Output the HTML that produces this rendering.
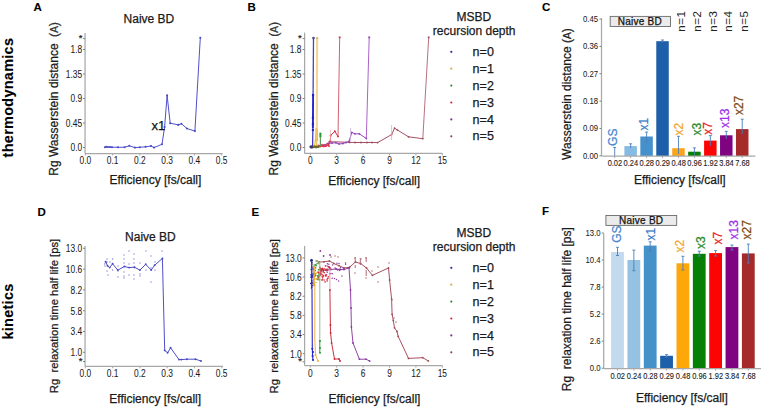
<!DOCTYPE html>
<html><head><meta charset="utf-8"><style>
html,body{margin:0;padding:0;background:#fff;overflow:hidden;}
svg{display:block;}
text{font-family:"Liberation Sans", sans-serif;white-space:pre;}
</style></head><body>
<svg width="764" height="408" viewBox="0 0 764 408">
<rect width="764" height="408" fill="#fff"/>
<text transform="translate(12.90,97.60) rotate(-90)" font-size="14.4" text-anchor="middle" fill="#000" stroke="#000" stroke-width="0.1" font-weight="bold" letter-spacing="0.32">thermodynamics</text>
<text transform="translate(12.90,311.50) rotate(-90)" font-size="14.4" text-anchor="middle" fill="#000" stroke="#000" stroke-width="0.1" font-weight="bold" letter-spacing="0.32">kinetics</text>
<text x="33.60" y="11.20" font-size="11.5" text-anchor="start" fill="#000" stroke="#000" stroke-width="0.1" font-weight="bold" >A</text>
<text x="247.60" y="11.30" font-size="11.5" text-anchor="start" fill="#000" stroke="#000" stroke-width="0.1" font-weight="bold" >B</text>
<text x="542.00" y="11.30" font-size="11.5" text-anchor="start" fill="#000" stroke="#000" stroke-width="0.1" font-weight="bold" >C</text>
<text x="37.60" y="216.40" font-size="11.5" text-anchor="start" fill="#000" stroke="#000" stroke-width="0.1" font-weight="bold" >D</text>
<text x="251.60" y="216.20" font-size="11.5" text-anchor="start" fill="#000" stroke="#000" stroke-width="0.1" font-weight="bold" >E</text>
<text x="542.00" y="215.40" font-size="11.5" text-anchor="start" fill="#000" stroke="#000" stroke-width="0.1" font-weight="bold" >F</text>
<text x="148.90" y="23.10" font-size="12" text-anchor="middle" fill="#1a1a1a" stroke="#1a1a1a" stroke-width="0.25" font-weight="normal" >Naive BD</text>
<text transform="translate(57.60,175.70) rotate(-90)" font-size="12" text-anchor="start" fill="#1a1a1a" stroke="#1a1a1a" stroke-width="0.25" font-weight="normal" >Rg Wasserstein distance</text>
<text transform="translate(57.90,37.00) rotate(-90)" font-size="12.5" text-anchor="start" fill="#333" stroke="#333" stroke-width="0.25" font-weight="normal" >(<tspan font-size="10">A</tspan>)</text>
<line x1="85.05" y1="33.00" x2="85.05" y2="153.50" stroke="#a8a8a8" stroke-width="1.25" />
<line x1="83.05" y1="38.62" x2="85.05" y2="38.62" stroke="#808080" stroke-width="1" />
<text x="82.40" y="41.12" font-size="9.5" text-anchor="end" fill="#1a1a1a" stroke="#1a1a1a" stroke-width="0.2" font-weight="normal" >*</text>
<line x1="83.05" y1="49.51" x2="85.05" y2="49.51" stroke="#808080" stroke-width="1" />
<text transform="translate(82.20,53.31) scale(0.8,1)" font-size="10.5" text-anchor="end" fill="#1a1a1a" stroke="#1a1a1a" stroke-width="0.05">1.8</text>
<line x1="83.05" y1="74.01" x2="85.05" y2="74.01" stroke="#808080" stroke-width="1" />
<text transform="translate(82.20,77.81) scale(0.8,1)" font-size="10.5" text-anchor="end" fill="#1a1a1a" stroke="#1a1a1a" stroke-width="0.05">1.35</text>
<line x1="83.05" y1="98.50" x2="85.05" y2="98.50" stroke="#808080" stroke-width="1" />
<text transform="translate(82.20,102.30) scale(0.8,1)" font-size="10.5" text-anchor="end" fill="#1a1a1a" stroke="#1a1a1a" stroke-width="0.05">0.9</text>
<line x1="83.05" y1="123.00" x2="85.05" y2="123.00" stroke="#808080" stroke-width="1" />
<text transform="translate(82.20,126.80) scale(0.8,1)" font-size="10.5" text-anchor="end" fill="#1a1a1a" stroke="#1a1a1a" stroke-width="0.05">0.45</text>
<line x1="83.05" y1="147.50" x2="85.05" y2="147.50" stroke="#808080" stroke-width="1" />
<text transform="translate(82.20,151.30) scale(0.8,1)" font-size="10.5" text-anchor="end" fill="#1a1a1a" stroke="#1a1a1a" stroke-width="0.05">0.0</text>
<line x1="85.05" y1="153.50" x2="222.50" y2="153.50" stroke="#a8a8a8" stroke-width="1.25" />
<line x1="85.40" y1="153.50" x2="85.40" y2="155.50" stroke="#a8a8a8" stroke-width="1" />
<text transform="translate(85.40,164.10) scale(0.8,1)" font-size="10.5" text-anchor="middle" fill="#1a1a1a" stroke="#1a1a1a" stroke-width="0.05">0.0</text>
<line x1="112.66" y1="153.50" x2="112.66" y2="155.50" stroke="#a8a8a8" stroke-width="1" />
<text transform="translate(112.66,164.10) scale(0.8,1)" font-size="10.5" text-anchor="middle" fill="#1a1a1a" stroke="#1a1a1a" stroke-width="0.05">0.1</text>
<line x1="139.92" y1="153.50" x2="139.92" y2="155.50" stroke="#a8a8a8" stroke-width="1" />
<text transform="translate(139.92,164.10) scale(0.8,1)" font-size="10.5" text-anchor="middle" fill="#1a1a1a" stroke="#1a1a1a" stroke-width="0.05">0.2</text>
<line x1="167.18" y1="153.50" x2="167.18" y2="155.50" stroke="#a8a8a8" stroke-width="1" />
<text transform="translate(167.18,164.10) scale(0.8,1)" font-size="10.5" text-anchor="middle" fill="#1a1a1a" stroke="#1a1a1a" stroke-width="0.05">0.3</text>
<line x1="194.44" y1="153.50" x2="194.44" y2="155.50" stroke="#a8a8a8" stroke-width="1" />
<text transform="translate(194.44,164.10) scale(0.8,1)" font-size="10.5" text-anchor="middle" fill="#1a1a1a" stroke="#1a1a1a" stroke-width="0.05">0.4</text>
<line x1="221.70" y1="153.50" x2="221.70" y2="155.50" stroke="#a8a8a8" stroke-width="1" />
<text transform="translate(221.70,164.10) scale(0.8,1)" font-size="10.5" text-anchor="middle" fill="#1a1a1a" stroke="#1a1a1a" stroke-width="0.05">0.5</text>
<text x="109.50" y="184.40" font-size="12" text-anchor="start" fill="#1a1a1a" stroke="#1a1a1a" stroke-width="0.25" font-weight="normal" >Efficiency [fs/call]</text>
<polyline points="104.90,147.30 106.30,146.80 107.80,147.00 110.00,147.00 112.00,147.20 118.00,147.30 124.60,147.20 129.30,145.80 134.90,147.60 139.80,147.30 145.60,146.80 151.00,146.00 154.00,147.60 162.00,144.30 164.60,127.10 167.10,95.40 170.20,123.20 178.30,124.90 181.40,123.70 186.90,128.50 194.90,131.10 200.30,37.70" fill="none" stroke="#5050cc" stroke-width="1.0" stroke-linejoin="round" />
<circle cx="104.90" cy="147.30" r="1.05" fill="#4a4ac8" fill-opacity="1"/>
<circle cx="106.30" cy="146.80" r="1.05" fill="#4a4ac8" fill-opacity="1"/>
<circle cx="107.80" cy="147.00" r="1.05" fill="#4a4ac8" fill-opacity="1"/>
<circle cx="110.00" cy="147.00" r="1.05" fill="#4a4ac8" fill-opacity="1"/>
<circle cx="112.00" cy="147.20" r="1.05" fill="#4a4ac8" fill-opacity="1"/>
<circle cx="118.00" cy="147.30" r="1.05" fill="#4a4ac8" fill-opacity="1"/>
<circle cx="124.60" cy="147.20" r="1.05" fill="#4a4ac8" fill-opacity="1"/>
<circle cx="129.30" cy="145.80" r="1.05" fill="#4a4ac8" fill-opacity="1"/>
<circle cx="134.90" cy="147.60" r="1.05" fill="#4a4ac8" fill-opacity="1"/>
<circle cx="139.80" cy="147.30" r="1.05" fill="#4a4ac8" fill-opacity="1"/>
<circle cx="145.60" cy="146.80" r="1.05" fill="#4a4ac8" fill-opacity="1"/>
<circle cx="151.00" cy="146.00" r="1.05" fill="#4a4ac8" fill-opacity="1"/>
<circle cx="154.00" cy="147.60" r="1.05" fill="#4a4ac8" fill-opacity="1"/>
<circle cx="162.00" cy="144.30" r="1.05" fill="#4a4ac8" fill-opacity="1"/>
<circle cx="164.60" cy="127.10" r="1.05" fill="#4a4ac8" fill-opacity="1"/>
<circle cx="167.10" cy="95.40" r="1.05" fill="#4a4ac8" fill-opacity="1"/>
<circle cx="170.20" cy="123.20" r="1.05" fill="#4a4ac8" fill-opacity="1"/>
<circle cx="178.30" cy="124.90" r="1.05" fill="#4a4ac8" fill-opacity="1"/>
<circle cx="181.40" cy="123.70" r="1.05" fill="#4a4ac8" fill-opacity="1"/>
<circle cx="186.90" cy="128.50" r="1.05" fill="#4a4ac8" fill-opacity="1"/>
<circle cx="194.90" cy="131.10" r="1.05" fill="#4a4ac8" fill-opacity="1"/>
<circle cx="200.30" cy="37.70" r="1.05" fill="#4a4ac8" fill-opacity="1"/>
<text x="151.60" y="130.20" font-size="13" text-anchor="start" fill="#111" stroke="#111" stroke-width="0.25" font-weight="normal" >x1</text>
<text transform="translate(277.60,175.50) rotate(-90)" font-size="12" text-anchor="start" fill="#1a1a1a" stroke="#1a1a1a" stroke-width="0.25" font-weight="normal" >Rg Wasserstein distance</text>
<text transform="translate(277.90,36.80) rotate(-90)" font-size="12.5" text-anchor="start" fill="#333" stroke="#333" stroke-width="0.25" font-weight="normal" >(<tspan font-size="10">A</tspan>)</text>
<line x1="304.60" y1="32.60" x2="304.60" y2="153.40" stroke="#a8a8a8" stroke-width="1.25" />
<line x1="302.60" y1="38.62" x2="304.60" y2="38.62" stroke="#808080" stroke-width="1" />
<text x="301.60" y="41.12" font-size="9.5" text-anchor="end" fill="#1a1a1a" stroke="#1a1a1a" stroke-width="0.2" font-weight="normal" >*</text>
<line x1="302.60" y1="49.51" x2="304.60" y2="49.51" stroke="#808080" stroke-width="1" />
<text transform="translate(301.40,53.31) scale(0.8,1)" font-size="10.5" text-anchor="end" fill="#1a1a1a" stroke="#1a1a1a" stroke-width="0.05">1.8</text>
<line x1="302.60" y1="74.01" x2="304.60" y2="74.01" stroke="#808080" stroke-width="1" />
<text transform="translate(301.40,77.81) scale(0.8,1)" font-size="10.5" text-anchor="end" fill="#1a1a1a" stroke="#1a1a1a" stroke-width="0.05">1.35</text>
<line x1="302.60" y1="98.50" x2="304.60" y2="98.50" stroke="#808080" stroke-width="1" />
<text transform="translate(301.40,102.30) scale(0.8,1)" font-size="10.5" text-anchor="end" fill="#1a1a1a" stroke="#1a1a1a" stroke-width="0.05">0.9</text>
<line x1="302.60" y1="123.00" x2="304.60" y2="123.00" stroke="#808080" stroke-width="1" />
<text transform="translate(301.40,126.80) scale(0.8,1)" font-size="10.5" text-anchor="end" fill="#1a1a1a" stroke="#1a1a1a" stroke-width="0.05">0.45</text>
<line x1="302.60" y1="147.50" x2="304.60" y2="147.50" stroke="#808080" stroke-width="1" />
<text transform="translate(301.40,151.30) scale(0.8,1)" font-size="10.5" text-anchor="end" fill="#1a1a1a" stroke="#1a1a1a" stroke-width="0.05">0.0</text>
<line x1="304.60" y1="153.40" x2="442.50" y2="153.40" stroke="#a8a8a8" stroke-width="1.25" />
<line x1="310.30" y1="153.40" x2="310.30" y2="155.40" stroke="#a8a8a8" stroke-width="1" />
<text transform="translate(310.30,164.10) scale(0.8,1)" font-size="10.5" text-anchor="middle" fill="#1a1a1a" stroke="#1a1a1a" stroke-width="0.05">0</text>
<line x1="336.70" y1="153.40" x2="336.70" y2="155.40" stroke="#a8a8a8" stroke-width="1" />
<text transform="translate(336.70,164.10) scale(0.8,1)" font-size="10.5" text-anchor="middle" fill="#1a1a1a" stroke="#1a1a1a" stroke-width="0.05">3</text>
<line x1="363.10" y1="153.40" x2="363.10" y2="155.40" stroke="#a8a8a8" stroke-width="1" />
<text transform="translate(363.10,164.10) scale(0.8,1)" font-size="10.5" text-anchor="middle" fill="#1a1a1a" stroke="#1a1a1a" stroke-width="0.05">6</text>
<line x1="389.50" y1="153.40" x2="389.50" y2="155.40" stroke="#a8a8a8" stroke-width="1" />
<text transform="translate(389.50,164.10) scale(0.8,1)" font-size="10.5" text-anchor="middle" fill="#1a1a1a" stroke="#1a1a1a" stroke-width="0.05">9</text>
<line x1="415.90" y1="153.40" x2="415.90" y2="155.40" stroke="#a8a8a8" stroke-width="1" />
<text transform="translate(415.90,164.10) scale(0.8,1)" font-size="10.5" text-anchor="middle" fill="#1a1a1a" stroke="#1a1a1a" stroke-width="0.05">12</text>
<line x1="442.30" y1="153.40" x2="442.30" y2="155.40" stroke="#a8a8a8" stroke-width="1" />
<text transform="translate(442.30,164.10) scale(0.8,1)" font-size="10.5" text-anchor="middle" fill="#1a1a1a" stroke="#1a1a1a" stroke-width="0.05">15</text>
<text x="328.30" y="184.60" font-size="12" text-anchor="start" fill="#1a1a1a" stroke="#1a1a1a" stroke-width="0.25" font-weight="normal" >Efficiency [fs/call]</text>
<polyline points="328.00,142.00 335.00,141.80 349.70,142.40 355.00,142.50 361.00,142.50 367.00,142.50 372.00,142.50 377.60,142.60 391.60,134.60 394.60,128.20 397.50,130.10 408.50,136.80 422.80,138.70" fill="none" stroke="#a0485a" stroke-width="0.95" stroke-linejoin="round" />
<circle cx="349.70" cy="142.40" r="0.9" fill="#a0485a" fill-opacity="1"/>
<circle cx="355.00" cy="142.50" r="0.9" fill="#a0485a" fill-opacity="1"/>
<circle cx="361.00" cy="142.50" r="0.9" fill="#a0485a" fill-opacity="1"/>
<circle cx="367.00" cy="142.50" r="0.9" fill="#a0485a" fill-opacity="1"/>
<circle cx="372.00" cy="142.50" r="0.9" fill="#a0485a" fill-opacity="1"/>
<circle cx="377.60" cy="142.60" r="0.9" fill="#a0485a" fill-opacity="1"/>
<circle cx="391.60" cy="134.60" r="0.9" fill="#a0485a" fill-opacity="1"/>
<circle cx="394.60" cy="128.20" r="0.9" fill="#a0485a" fill-opacity="1"/>
<circle cx="397.50" cy="130.10" r="0.9" fill="#a0485a" fill-opacity="1"/>
<circle cx="408.50" cy="136.80" r="0.9" fill="#a0485a" fill-opacity="1"/>
<circle cx="422.80" cy="138.70" r="0.9" fill="#a0485a" fill-opacity="1"/>
<polyline points="422.80,138.70 428.70,37.40" fill="none" stroke="#b06070" stroke-width="0.9" stroke-linejoin="round" />
<circle cx="428.70" cy="37.40" r="1.1" fill="#b06070" fill-opacity="1"/>
<line x1="391.60" y1="125.00" x2="391.60" y2="140.00" stroke="#d8b0b0" stroke-width="0.8" />
<polyline points="320.00,146.00 324.00,145.00 328.00,143.50 332.00,143.00 336.00,142.80 339.00,144.00 343.00,143.50 346.00,142.50 349.00,141.50 351.80,132.50 354.90,133.80 359.30,133.80 366.30,138.50" fill="none" stroke="#9040b8" stroke-width="0.95" stroke-linejoin="round" />
<circle cx="320.00" cy="146.00" r="0.9" fill="#9040b8" fill-opacity="1"/>
<circle cx="324.00" cy="145.00" r="0.9" fill="#9040b8" fill-opacity="1"/>
<circle cx="328.00" cy="143.50" r="0.9" fill="#9040b8" fill-opacity="1"/>
<circle cx="332.00" cy="143.00" r="0.9" fill="#9040b8" fill-opacity="1"/>
<circle cx="336.00" cy="142.80" r="0.9" fill="#9040b8" fill-opacity="1"/>
<circle cx="339.00" cy="144.00" r="0.9" fill="#9040b8" fill-opacity="1"/>
<circle cx="343.00" cy="143.50" r="0.9" fill="#9040b8" fill-opacity="1"/>
<circle cx="346.00" cy="142.50" r="0.9" fill="#9040b8" fill-opacity="1"/>
<circle cx="349.00" cy="141.50" r="0.9" fill="#9040b8" fill-opacity="1"/>
<circle cx="351.80" cy="132.50" r="0.9" fill="#9040b8" fill-opacity="1"/>
<circle cx="354.90" cy="133.80" r="0.9" fill="#9040b8" fill-opacity="1"/>
<circle cx="359.30" cy="133.80" r="0.9" fill="#9040b8" fill-opacity="1"/>
<circle cx="366.30" cy="138.50" r="0.9" fill="#9040b8" fill-opacity="1"/>
<polyline points="366.30,138.50 369.20,37.40" fill="none" stroke="#a050c0" stroke-width="0.9" stroke-linejoin="round" />
<circle cx="369.20" cy="37.40" r="1.1" fill="#a050c0" fill-opacity="1"/>
<line x1="350.60" y1="128.00" x2="350.60" y2="141.00" stroke="#c8b0e0" stroke-width="0.8" />
<polyline points="317.00,147.00 320.00,146.50 323.00,146.00 326.00,146.00 328.50,145.00 330.30,141.00 330.60,135.50 334.80,131.20 338.00,136.50" fill="none" stroke="#e0283c" stroke-width="1.0" stroke-linejoin="round" />
<circle cx="317.00" cy="147.00" r="1.0" fill="#e0283c" fill-opacity="1"/>
<circle cx="320.00" cy="146.50" r="1.0" fill="#e0283c" fill-opacity="1"/>
<circle cx="323.00" cy="146.00" r="1.0" fill="#e0283c" fill-opacity="1"/>
<circle cx="326.00" cy="146.00" r="1.0" fill="#e0283c" fill-opacity="1"/>
<circle cx="328.50" cy="145.00" r="1.0" fill="#e0283c" fill-opacity="1"/>
<circle cx="330.30" cy="141.00" r="1.0" fill="#e0283c" fill-opacity="1"/>
<circle cx="330.60" cy="135.50" r="1.0" fill="#e0283c" fill-opacity="1"/>
<circle cx="334.80" cy="131.20" r="1.0" fill="#e0283c" fill-opacity="1"/>
<circle cx="338.00" cy="136.50" r="1.0" fill="#e0283c" fill-opacity="1"/>
<circle cx="318.50" cy="145.50" r="0.9" fill="#e03848" fill-opacity="1"/>
<circle cx="320.50" cy="146.20" r="0.9" fill="#e03848" fill-opacity="1"/>
<circle cx="322.00" cy="144.60" r="0.9" fill="#e03848" fill-opacity="1"/>
<circle cx="324.00" cy="146.50" r="0.9" fill="#e03848" fill-opacity="1"/>
<circle cx="326.00" cy="145.00" r="0.9" fill="#e03848" fill-opacity="1"/>
<circle cx="327.20" cy="143.80" r="0.9" fill="#e03848" fill-opacity="1"/>
<circle cx="329.00" cy="146.20" r="0.9" fill="#e03848" fill-opacity="1"/>
<polyline points="338.00,136.50 339.70,37.40" fill="none" stroke="#c85060" stroke-width="0.9" stroke-linejoin="round" />
<circle cx="339.70" cy="37.40" r="1.1" fill="#c85060" fill-opacity="1"/>
<line x1="330.40" y1="130.00" x2="330.40" y2="141.00" stroke="#f0b0b8" stroke-width="0.8" />
<polyline points="315.00,147.20 318.00,146.80 320.40,146.00 320.40,137.00" fill="none" stroke="#2a9a3a" stroke-width="1.0" stroke-linejoin="round" />
<circle cx="320.40" cy="133.60" r="1.15" fill="#2a9a3a" fill-opacity="1"/>
<circle cx="320.40" cy="135.00" r="1.15" fill="#2a9a3a" fill-opacity="1"/>
<circle cx="320.40" cy="136.40" r="1.15" fill="#2a9a3a" fill-opacity="1"/>
<line x1="320.40" y1="137.00" x2="320.40" y2="146.00" stroke="#60a060" stroke-width="1.0" />
<line x1="316.80" y1="140.00" x2="317.10" y2="38.10" stroke="#f3d69a" stroke-width="2.2" />
<circle cx="317.10" cy="38.10" r="1.2" fill="#d8b870" fill-opacity="1"/>
<polyline points="313.50,147.00 314.50,146.00 315.50,140.00 316.20,129.00 316.80,138.00 317.20,131.00 317.40,140.00" fill="none" stroke="#f0b030" stroke-width="1.1" stroke-linejoin="round" />
<circle cx="313.50" cy="147.00" r="0.9" fill="#f0b030" fill-opacity="1"/>
<circle cx="314.50" cy="146.00" r="0.9" fill="#f0b030" fill-opacity="1"/>
<circle cx="315.50" cy="140.00" r="0.9" fill="#f0b030" fill-opacity="1"/>
<circle cx="316.20" cy="129.00" r="0.9" fill="#f0b030" fill-opacity="1"/>
<circle cx="316.80" cy="138.00" r="0.9" fill="#f0b030" fill-opacity="1"/>
<circle cx="317.20" cy="131.00" r="0.9" fill="#f0b030" fill-opacity="1"/>
<circle cx="317.40" cy="140.00" r="0.9" fill="#f0b030" fill-opacity="1"/>
<line x1="316.60" y1="128.00" x2="316.60" y2="146.00" stroke="#f2c560" stroke-width="1.6" />
<line x1="313.10" y1="94.00" x2="313.50" y2="38.10" stroke="#4646c0" stroke-width="1.3" />
<line x1="312.90" y1="128.00" x2="313.10" y2="94.00" stroke="#2626d0" stroke-width="1.9" />
<line x1="312.60" y1="146.00" x2="312.90" y2="128.00" stroke="#3030c8" stroke-width="1.2" />
<circle cx="313.50" cy="38.10" r="1.3" fill="#4a4aa0" fill-opacity="1"/>
<circle cx="313.00" cy="95.00" r="1.2" fill="#2020c8" fill-opacity="1"/>
<circle cx="312.90" cy="118.00" r="1.2" fill="#2020c8" fill-opacity="1"/>
<circle cx="312.90" cy="124.00" r="1.2" fill="#2020c8" fill-opacity="1"/>
<circle cx="312.90" cy="130.00" r="1.2" fill="#2020c8" fill-opacity="1"/>
<circle cx="311.00" cy="146.80" r="1.6" fill="#3a3a6a" fill-opacity="1"/>
<circle cx="312.00" cy="147.00" r="1.6" fill="#3a3a6a" fill-opacity="1"/>
<circle cx="314.00" cy="146.80" r="1.4" fill="#6a6a30" fill-opacity="1"/>
<circle cx="316.00" cy="147.00" r="1.4" fill="#6a6a30" fill-opacity="1"/>
<circle cx="318.00" cy="146.80" r="1.4" fill="#6a6a30" fill-opacity="1"/>
<text x="473.80" y="21.00" font-size="12" text-anchor="middle" fill="#1a1a1a" stroke="#1a1a1a" stroke-width="0.25" font-weight="normal" >MSBD</text>
<text x="474.20" y="35.00" font-size="12" text-anchor="middle" fill="#1a1a1a" stroke="#1a1a1a" stroke-width="0.25" font-weight="normal" >recursion depth</text>
<circle cx="451.30" cy="51.80" r="1.1" fill="#2a2ab0" fill-opacity="1"/>
<text x="472.40" y="55.90" font-size="12.5" text-anchor="start" fill="#1a1a1a" stroke="#1a1a1a" stroke-width="0.25" font-weight="normal" letter-spacing="0.2">n=0</text>
<circle cx="451.30" cy="68.70" r="1.1" fill="#e0b040" fill-opacity="1"/>
<text x="472.40" y="72.80" font-size="12.5" text-anchor="start" fill="#1a1a1a" stroke="#1a1a1a" stroke-width="0.25" font-weight="normal" letter-spacing="0.2">n=1</text>
<circle cx="451.30" cy="85.60" r="1.1" fill="#2a8a3a" fill-opacity="1"/>
<text x="472.40" y="89.70" font-size="12.5" text-anchor="start" fill="#1a1a1a" stroke="#1a1a1a" stroke-width="0.25" font-weight="normal" letter-spacing="0.2">n=2</text>
<circle cx="451.30" cy="102.50" r="1.1" fill="#d82040" fill-opacity="1"/>
<text x="472.40" y="106.60" font-size="12.5" text-anchor="start" fill="#1a1a1a" stroke="#1a1a1a" stroke-width="0.25" font-weight="normal" letter-spacing="0.2">n=3</text>
<circle cx="451.30" cy="119.40" r="1.1" fill="#7a3a9a" fill-opacity="1"/>
<text x="472.40" y="123.50" font-size="12.5" text-anchor="start" fill="#1a1a1a" stroke="#1a1a1a" stroke-width="0.25" font-weight="normal" letter-spacing="0.2">n=4</text>
<circle cx="451.30" cy="136.30" r="1.1" fill="#8a4a4a" fill-opacity="1"/>
<text x="472.40" y="140.40" font-size="12.5" text-anchor="start" fill="#1a1a1a" stroke="#1a1a1a" stroke-width="0.25" font-weight="normal" letter-spacing="0.2">n=5</text>
<line x1="601.50" y1="18.20" x2="601.50" y2="156.00" stroke="#a8a8a8" stroke-width="1.25" />
<line x1="599.50" y1="19.09" x2="601.50" y2="19.09" stroke="#808080" stroke-width="1" />
<text transform="translate(598.00,22.09) scale(0.9,1)" font-size="8.6" text-anchor="end" fill="#1a1a1a" stroke="#1a1a1a" stroke-width="0.05">0.45</text>
<line x1="599.50" y1="46.43" x2="601.50" y2="46.43" stroke="#808080" stroke-width="1" />
<text transform="translate(598.00,49.43) scale(0.9,1)" font-size="8.6" text-anchor="end" fill="#1a1a1a" stroke="#1a1a1a" stroke-width="0.05">0.36</text>
<line x1="599.50" y1="73.77" x2="601.50" y2="73.77" stroke="#808080" stroke-width="1" />
<text transform="translate(598.00,76.77) scale(0.9,1)" font-size="8.6" text-anchor="end" fill="#1a1a1a" stroke="#1a1a1a" stroke-width="0.05">0.27</text>
<line x1="599.50" y1="101.12" x2="601.50" y2="101.12" stroke="#808080" stroke-width="1" />
<text transform="translate(598.00,104.12) scale(0.9,1)" font-size="8.6" text-anchor="end" fill="#1a1a1a" stroke="#1a1a1a" stroke-width="0.05">0.18</text>
<line x1="599.50" y1="128.46" x2="601.50" y2="128.46" stroke="#808080" stroke-width="1" />
<text transform="translate(598.00,131.46) scale(0.9,1)" font-size="8.6" text-anchor="end" fill="#1a1a1a" stroke="#1a1a1a" stroke-width="0.05">0.09</text>
<line x1="599.50" y1="155.80" x2="601.50" y2="155.80" stroke="#808080" stroke-width="1" />
<text transform="translate(598.00,158.80) scale(0.9,1)" font-size="8.6" text-anchor="end" fill="#1a1a1a" stroke="#1a1a1a" stroke-width="0.05">0.00</text>
<text transform="translate(571.20,159.90) rotate(-90)" font-size="12" text-anchor="start" fill="#1a1a1a" stroke="#1a1a1a" stroke-width="0.25" font-weight="normal" >Wasserstein distance (<tspan font-size="10">A</tspan>)</text>
<rect x="624.39" y="146.10" width="12.50" height="9.90" fill="#86bbe3" />
<rect x="640.33" y="136.50" width="12.50" height="19.50" fill="#4690cc" />
<rect x="656.27" y="41.20" width="12.50" height="114.80" fill="#1d5fa8" />
<rect x="672.21" y="148.20" width="12.50" height="7.80" fill="#fca51a" />
<rect x="688.15" y="151.70" width="12.50" height="4.30" fill="#058005" />
<rect x="704.09" y="140.60" width="12.50" height="15.40" fill="#fd0404" />
<rect x="720.03" y="135.30" width="12.50" height="20.70" fill="#800482" />
<rect x="735.97" y="129.10" width="12.50" height="26.90" fill="#a52a2a" />
<line x1="614.70" y1="147.50" x2="614.70" y2="156.00" stroke="#4a7fc0" stroke-width="0.9" />
<line x1="613.20" y1="147.50" x2="616.20" y2="147.50" stroke="#4a7fc0" stroke-width="0.9" />
<line x1="630.64" y1="143.80" x2="630.64" y2="148.00" stroke="#4a7fc0" stroke-width="0.9" />
<line x1="629.14" y1="143.80" x2="632.14" y2="143.80" stroke="#4a7fc0" stroke-width="0.9" />
<line x1="646.58" y1="132.10" x2="646.58" y2="143.30" stroke="#4a7fc0" stroke-width="0.9" />
<line x1="645.08" y1="132.10" x2="648.08" y2="132.10" stroke="#4a7fc0" stroke-width="0.9" />
<line x1="662.52" y1="40.00" x2="662.52" y2="42.40" stroke="#4a7fc0" stroke-width="0.9" />
<line x1="661.02" y1="40.00" x2="664.02" y2="40.00" stroke="#4a7fc0" stroke-width="0.9" />
<line x1="678.46" y1="136.30" x2="678.46" y2="154.00" stroke="#4a7fc0" stroke-width="0.9" />
<line x1="676.96" y1="136.30" x2="679.96" y2="136.30" stroke="#4a7fc0" stroke-width="0.9" />
<line x1="694.40" y1="147.90" x2="694.40" y2="155.00" stroke="#4a7fc0" stroke-width="0.9" />
<line x1="692.90" y1="147.90" x2="695.90" y2="147.90" stroke="#4a7fc0" stroke-width="0.9" />
<line x1="710.34" y1="135.60" x2="710.34" y2="146.00" stroke="#4a7fc0" stroke-width="0.9" />
<line x1="708.84" y1="135.60" x2="711.84" y2="135.60" stroke="#4a7fc0" stroke-width="0.9" />
<line x1="726.28" y1="131.40" x2="726.28" y2="139.00" stroke="#4a7fc0" stroke-width="0.9" />
<line x1="724.78" y1="131.40" x2="727.78" y2="131.40" stroke="#4a7fc0" stroke-width="0.9" />
<line x1="742.22" y1="119.20" x2="742.22" y2="134.00" stroke="#4a7fc0" stroke-width="0.9" />
<line x1="740.72" y1="119.20" x2="743.72" y2="119.20" stroke="#4a7fc0" stroke-width="0.9" />
<line x1="601.50" y1="156.00" x2="755.40" y2="156.00" stroke="#a8a8a8" stroke-width="1.25" />
<line x1="614.70" y1="156.00" x2="614.70" y2="158.00" stroke="#a8a8a8" stroke-width="1" />
<text transform="translate(614.90,166.30) scale(0.8,1)" font-size="9.3" text-anchor="middle" fill="#1a1a1a" stroke="#1a1a1a" stroke-width="0.12">0.02</text>
<line x1="630.64" y1="156.00" x2="630.64" y2="158.00" stroke="#a8a8a8" stroke-width="1" />
<text transform="translate(630.84,166.30) scale(0.8,1)" font-size="9.3" text-anchor="middle" fill="#1a1a1a" stroke="#1a1a1a" stroke-width="0.12">0.24</text>
<line x1="646.58" y1="156.00" x2="646.58" y2="158.00" stroke="#a8a8a8" stroke-width="1" />
<text transform="translate(646.78,166.30) scale(0.8,1)" font-size="9.3" text-anchor="middle" fill="#1a1a1a" stroke="#1a1a1a" stroke-width="0.12">0.28</text>
<line x1="662.52" y1="156.00" x2="662.52" y2="158.00" stroke="#a8a8a8" stroke-width="1" />
<text transform="translate(662.72,166.30) scale(0.8,1)" font-size="9.3" text-anchor="middle" fill="#1a1a1a" stroke="#1a1a1a" stroke-width="0.12">0.29</text>
<line x1="678.46" y1="156.00" x2="678.46" y2="158.00" stroke="#a8a8a8" stroke-width="1" />
<text transform="translate(678.66,166.30) scale(0.8,1)" font-size="9.3" text-anchor="middle" fill="#1a1a1a" stroke="#1a1a1a" stroke-width="0.12">0.48</text>
<line x1="694.40" y1="156.00" x2="694.40" y2="158.00" stroke="#a8a8a8" stroke-width="1" />
<text transform="translate(694.60,166.30) scale(0.8,1)" font-size="9.3" text-anchor="middle" fill="#1a1a1a" stroke="#1a1a1a" stroke-width="0.12">0.96</text>
<line x1="710.34" y1="156.00" x2="710.34" y2="158.00" stroke="#a8a8a8" stroke-width="1" />
<text transform="translate(710.54,166.30) scale(0.8,1)" font-size="9.3" text-anchor="middle" fill="#1a1a1a" stroke="#1a1a1a" stroke-width="0.12">1.92</text>
<line x1="726.28" y1="156.00" x2="726.28" y2="158.00" stroke="#a8a8a8" stroke-width="1" />
<text transform="translate(726.48,166.30) scale(0.8,1)" font-size="9.3" text-anchor="middle" fill="#1a1a1a" stroke="#1a1a1a" stroke-width="0.12">3.84</text>
<line x1="742.22" y1="156.00" x2="742.22" y2="158.00" stroke="#a8a8a8" stroke-width="1" />
<text transform="translate(742.42,166.30) scale(0.8,1)" font-size="9.3" text-anchor="middle" fill="#1a1a1a" stroke="#1a1a1a" stroke-width="0.12">7.68</text>
<text x="633.90" y="184.40" font-size="12" text-anchor="start" fill="#1a1a1a" stroke="#1a1a1a" stroke-width="0.25" font-weight="normal" >Efficiency [fs/call]</text>
<rect x="610.20" y="16.40" width="60.30" height="10.10" fill="#ebebeb" stroke="#6a6a6a" stroke-width="0.9"/>
<text x="639.80" y="25.30" font-size="10" text-anchor="middle" fill="#111" stroke="#111" stroke-width="0.25" font-weight="normal" letter-spacing="0.25">Naive BD</text>
<text transform="translate(685.30,31.70) rotate(-90)" font-size="11.5" text-anchor="start" fill="#222" stroke="#222" stroke-width="0" font-weight="normal" letter-spacing="0.5">n=1</text>
<text transform="translate(701.00,31.70) rotate(-90)" font-size="11.5" text-anchor="start" fill="#222" stroke="#222" stroke-width="0" font-weight="normal" letter-spacing="0.5">n=2</text>
<text transform="translate(716.70,31.70) rotate(-90)" font-size="11.5" text-anchor="start" fill="#222" stroke="#222" stroke-width="0" font-weight="normal" letter-spacing="0.5">n=3</text>
<text transform="translate(732.40,31.70) rotate(-90)" font-size="11.5" text-anchor="start" fill="#222" stroke="#222" stroke-width="0" font-weight="normal" letter-spacing="0.5">n=4</text>
<text transform="translate(748.10,31.70) rotate(-90)" font-size="11.5" text-anchor="start" fill="#222" stroke="#222" stroke-width="0" font-weight="normal" letter-spacing="0.5">n=5</text>
<text transform="translate(616.90,145.90) rotate(-90)" font-size="12" text-anchor="start" fill="#4a86d0" stroke="#4a86d0" stroke-width="0.25" font-weight="normal" >GS</text>
<text transform="translate(648.10,130.60) rotate(-90)" font-size="12" text-anchor="start" fill="#3a7ac8" stroke="#3a7ac8" stroke-width="0.25" font-weight="normal" >x1</text>
<text transform="translate(682.50,135.40) rotate(-90)" font-size="12" text-anchor="start" fill="#f0a830" stroke="#f0a830" stroke-width="0.25" font-weight="normal" >x2</text>
<text transform="translate(701.10,135.40) rotate(-90)" font-size="12" text-anchor="start" fill="#2a8a2a" stroke="#2a8a2a" stroke-width="0.25" font-weight="normal" >x3</text>
<text transform="translate(712.40,134.80) rotate(-90)" font-size="12" text-anchor="start" fill="#e82020" stroke="#e82020" stroke-width="0.25" font-weight="normal" >x7</text>
<text transform="translate(729.30,128.00) rotate(-90)" font-size="12" text-anchor="start" fill="#9a30e8" stroke="#9a30e8" stroke-width="0.25" font-weight="normal" >x13</text>
<text transform="translate(742.80,115.10) rotate(-90)" font-size="12" text-anchor="start" fill="#7a4a10" stroke="#7a4a10" stroke-width="0.25" font-weight="normal" >x27</text>
<text x="150.40" y="240.70" font-size="12" text-anchor="middle" fill="#1a1a1a" stroke="#1a1a1a" stroke-width="0.25" font-weight="normal" >Naive BD</text>
<text transform="translate(57.50,393.20) rotate(-90)" font-size="11.3" text-anchor="start" fill="#1a1a1a" stroke="#1a1a1a" stroke-width="0.25" font-weight="normal" >Rg  relaxation time half life [ps]</text>
<line x1="85.05" y1="246.00" x2="85.05" y2="366.30" stroke="#a8a8a8" stroke-width="1.25" />
<line x1="83.05" y1="248.30" x2="85.05" y2="248.30" stroke="#808080" stroke-width="1" />
<text transform="translate(82.20,252.10) scale(0.8,1)" font-size="10.5" text-anchor="end" fill="#1a1a1a" stroke="#1a1a1a" stroke-width="0.05">13.0</text>
<line x1="83.05" y1="269.10" x2="85.05" y2="269.10" stroke="#808080" stroke-width="1" />
<text transform="translate(82.20,272.90) scale(0.8,1)" font-size="10.5" text-anchor="end" fill="#1a1a1a" stroke="#1a1a1a" stroke-width="0.05">10.6</text>
<line x1="83.05" y1="289.90" x2="85.05" y2="289.90" stroke="#808080" stroke-width="1" />
<text transform="translate(82.20,293.70) scale(0.8,1)" font-size="10.5" text-anchor="end" fill="#1a1a1a" stroke="#1a1a1a" stroke-width="0.05">8.2</text>
<line x1="83.05" y1="310.70" x2="85.05" y2="310.70" stroke="#808080" stroke-width="1" />
<text transform="translate(82.20,314.50) scale(0.8,1)" font-size="10.5" text-anchor="end" fill="#1a1a1a" stroke="#1a1a1a" stroke-width="0.05">5.8</text>
<line x1="83.05" y1="331.50" x2="85.05" y2="331.50" stroke="#808080" stroke-width="1" />
<text transform="translate(82.20,335.30) scale(0.8,1)" font-size="10.5" text-anchor="end" fill="#1a1a1a" stroke="#1a1a1a" stroke-width="0.05">3.4</text>
<line x1="83.05" y1="352.30" x2="85.05" y2="352.30" stroke="#808080" stroke-width="1" />
<text transform="translate(82.20,356.10) scale(0.8,1)" font-size="10.5" text-anchor="end" fill="#1a1a1a" stroke="#1a1a1a" stroke-width="0.05">1.0</text>
<line x1="83.05" y1="361.50" x2="85.05" y2="361.50" stroke="#808080" stroke-width="1" />
<text x="82.40" y="364.00" font-size="9.5" text-anchor="end" fill="#1a1a1a" stroke="#1a1a1a" stroke-width="0.2" font-weight="normal" >*</text>
<line x1="85.05" y1="366.30" x2="223.00" y2="366.30" stroke="#a8a8a8" stroke-width="1.25" />
<line x1="85.40" y1="366.30" x2="85.40" y2="368.30" stroke="#a8a8a8" stroke-width="1" />
<text transform="translate(85.40,377.20) scale(0.8,1)" font-size="10.5" text-anchor="middle" fill="#1a1a1a" stroke="#1a1a1a" stroke-width="0.05">0.0</text>
<line x1="112.66" y1="366.30" x2="112.66" y2="368.30" stroke="#a8a8a8" stroke-width="1" />
<text transform="translate(112.66,377.20) scale(0.8,1)" font-size="10.5" text-anchor="middle" fill="#1a1a1a" stroke="#1a1a1a" stroke-width="0.05">0.1</text>
<line x1="139.92" y1="366.30" x2="139.92" y2="368.30" stroke="#a8a8a8" stroke-width="1" />
<text transform="translate(139.92,377.20) scale(0.8,1)" font-size="10.5" text-anchor="middle" fill="#1a1a1a" stroke="#1a1a1a" stroke-width="0.05">0.2</text>
<line x1="167.18" y1="366.30" x2="167.18" y2="368.30" stroke="#a8a8a8" stroke-width="1" />
<text transform="translate(167.18,377.20) scale(0.8,1)" font-size="10.5" text-anchor="middle" fill="#1a1a1a" stroke="#1a1a1a" stroke-width="0.05">0.3</text>
<line x1="194.44" y1="366.30" x2="194.44" y2="368.30" stroke="#a8a8a8" stroke-width="1" />
<text transform="translate(194.44,377.20) scale(0.8,1)" font-size="10.5" text-anchor="middle" fill="#1a1a1a" stroke="#1a1a1a" stroke-width="0.05">0.4</text>
<line x1="221.70" y1="366.30" x2="221.70" y2="368.30" stroke="#a8a8a8" stroke-width="1" />
<text transform="translate(221.70,377.20) scale(0.8,1)" font-size="10.5" text-anchor="middle" fill="#1a1a1a" stroke="#1a1a1a" stroke-width="0.05">0.5</text>
<text x="109.30" y="403.20" font-size="12" text-anchor="start" fill="#1a1a1a" stroke="#1a1a1a" stroke-width="0.25" font-weight="normal" >Efficiency [fs/call]</text>
<circle cx="107.00" cy="259.00" r="0.7" fill="#8484d4" fill-opacity="1"/>
<circle cx="107.00" cy="262.00" r="0.7" fill="#8484d4" fill-opacity="1"/>
<circle cx="106.00" cy="263.00" r="0.7" fill="#8484d4" fill-opacity="1"/>
<circle cx="107.00" cy="271.00" r="0.7" fill="#8484d4" fill-opacity="1"/>
<circle cx="108.00" cy="275.00" r="0.7" fill="#8484d4" fill-opacity="1"/>
<circle cx="105.00" cy="266.00" r="0.7" fill="#8484d4" fill-opacity="1"/>
<circle cx="112.60" cy="259.00" r="0.7" fill="#8484d4" fill-opacity="1"/>
<circle cx="112.60" cy="270.00" r="0.7" fill="#8484d4" fill-opacity="1"/>
<circle cx="118.00" cy="266.00" r="0.7" fill="#8484d4" fill-opacity="1"/>
<circle cx="118.00" cy="271.00" r="0.7" fill="#8484d4" fill-opacity="1"/>
<circle cx="118.00" cy="277.00" r="0.7" fill="#8484d4" fill-opacity="1"/>
<circle cx="124.00" cy="255.00" r="0.7" fill="#8484d4" fill-opacity="1"/>
<circle cx="124.00" cy="259.00" r="0.7" fill="#8484d4" fill-opacity="1"/>
<circle cx="124.00" cy="263.00" r="0.7" fill="#8484d4" fill-opacity="1"/>
<circle cx="124.00" cy="272.00" r="0.7" fill="#8484d4" fill-opacity="1"/>
<circle cx="124.00" cy="276.00" r="0.7" fill="#8484d4" fill-opacity="1"/>
<circle cx="124.00" cy="278.00" r="0.7" fill="#8484d4" fill-opacity="1"/>
<circle cx="129.00" cy="251.00" r="0.7" fill="#8484d4" fill-opacity="1"/>
<circle cx="129.00" cy="264.00" r="0.7" fill="#8484d4" fill-opacity="1"/>
<circle cx="129.00" cy="275.00" r="0.7" fill="#8484d4" fill-opacity="1"/>
<circle cx="134.00" cy="254.00" r="0.7" fill="#8484d4" fill-opacity="1"/>
<circle cx="134.00" cy="259.00" r="0.7" fill="#8484d4" fill-opacity="1"/>
<circle cx="134.00" cy="263.00" r="0.7" fill="#8484d4" fill-opacity="1"/>
<circle cx="134.00" cy="275.00" r="0.7" fill="#8484d4" fill-opacity="1"/>
<circle cx="134.00" cy="279.00" r="0.7" fill="#8484d4" fill-opacity="1"/>
<circle cx="140.00" cy="263.00" r="0.7" fill="#8484d4" fill-opacity="1"/>
<circle cx="140.00" cy="274.00" r="0.7" fill="#8484d4" fill-opacity="1"/>
<circle cx="140.00" cy="276.00" r="0.7" fill="#8484d4" fill-opacity="1"/>
<circle cx="146.00" cy="251.00" r="0.7" fill="#8484d4" fill-opacity="1"/>
<circle cx="146.00" cy="270.00" r="0.7" fill="#8484d4" fill-opacity="1"/>
<circle cx="151.00" cy="256.00" r="0.7" fill="#8484d4" fill-opacity="1"/>
<circle cx="151.00" cy="268.00" r="0.7" fill="#8484d4" fill-opacity="1"/>
<circle cx="151.00" cy="282.00" r="0.7" fill="#8484d4" fill-opacity="1"/>
<circle cx="155.00" cy="262.00" r="0.7" fill="#8484d4" fill-opacity="1"/>
<circle cx="155.00" cy="270.00" r="0.7" fill="#8484d4" fill-opacity="1"/>
<circle cx="162.00" cy="251.00" r="0.7" fill="#8484d4" fill-opacity="1"/>
<circle cx="104.50" cy="264.00" r="0.7" fill="#8484d4" fill-opacity="1"/>
<circle cx="110.00" cy="262.00" r="0.7" fill="#8484d4" fill-opacity="1"/>
<polyline points="105.60,261.80 107.50,265.70 109.70,267.60 112.60,263.80 117.80,270.10 124.40,266.50 129.10,267.60 134.40,267.20 139.90,270.10 145.70,264.30 151.20,270.10 154.60,265.30 162.40,258.40 164.70,350.40 167.60,352.70 170.60,347.80 179.00,359.60 181.40,359.60 186.90,359.20 195.50,359.20 201.00,361.00" fill="none" stroke="#5050c8" stroke-width="1.0" stroke-linejoin="round" />
<circle cx="105.60" cy="261.80" r="0.95" fill="#4646c0" fill-opacity="1"/>
<circle cx="107.50" cy="265.70" r="0.95" fill="#4646c0" fill-opacity="1"/>
<circle cx="109.70" cy="267.60" r="0.95" fill="#4646c0" fill-opacity="1"/>
<circle cx="112.60" cy="263.80" r="0.95" fill="#4646c0" fill-opacity="1"/>
<circle cx="117.80" cy="270.10" r="0.95" fill="#4646c0" fill-opacity="1"/>
<circle cx="124.40" cy="266.50" r="0.95" fill="#4646c0" fill-opacity="1"/>
<circle cx="129.10" cy="267.60" r="0.95" fill="#4646c0" fill-opacity="1"/>
<circle cx="134.40" cy="267.20" r="0.95" fill="#4646c0" fill-opacity="1"/>
<circle cx="139.90" cy="270.10" r="0.95" fill="#4646c0" fill-opacity="1"/>
<circle cx="145.70" cy="264.30" r="0.95" fill="#4646c0" fill-opacity="1"/>
<circle cx="151.20" cy="270.10" r="0.95" fill="#4646c0" fill-opacity="1"/>
<circle cx="154.60" cy="265.30" r="0.95" fill="#4646c0" fill-opacity="1"/>
<circle cx="162.40" cy="258.40" r="0.95" fill="#4646c0" fill-opacity="1"/>
<circle cx="164.70" cy="350.40" r="0.95" fill="#4646c0" fill-opacity="1"/>
<circle cx="167.60" cy="352.70" r="0.95" fill="#4646c0" fill-opacity="1"/>
<circle cx="170.60" cy="347.80" r="0.95" fill="#4646c0" fill-opacity="1"/>
<circle cx="179.00" cy="359.60" r="0.95" fill="#4646c0" fill-opacity="1"/>
<circle cx="181.40" cy="359.60" r="0.95" fill="#4646c0" fill-opacity="1"/>
<circle cx="186.90" cy="359.20" r="0.95" fill="#4646c0" fill-opacity="1"/>
<circle cx="195.50" cy="359.20" r="0.95" fill="#4646c0" fill-opacity="1"/>
<circle cx="201.00" cy="361.00" r="0.95" fill="#4646c0" fill-opacity="1"/>
<text transform="translate(277.60,393.50) rotate(-90)" font-size="11.3" text-anchor="start" fill="#1a1a1a" stroke="#1a1a1a" stroke-width="0.25" font-weight="normal" >Rg  relaxation time half life [ps]</text>
<line x1="304.60" y1="245.90" x2="304.60" y2="365.60" stroke="#a8a8a8" stroke-width="1.25" />
<line x1="302.60" y1="257.94" x2="304.60" y2="257.94" stroke="#808080" stroke-width="1" />
<text transform="translate(301.80,261.74) scale(0.8,1)" font-size="10.5" text-anchor="end" fill="#1a1a1a" stroke="#1a1a1a" stroke-width="0.05">13.0</text>
<line x1="302.60" y1="277.09" x2="304.60" y2="277.09" stroke="#808080" stroke-width="1" />
<text transform="translate(301.80,280.89) scale(0.8,1)" font-size="10.5" text-anchor="end" fill="#1a1a1a" stroke="#1a1a1a" stroke-width="0.05">10.6</text>
<line x1="302.60" y1="296.24" x2="304.60" y2="296.24" stroke="#808080" stroke-width="1" />
<text transform="translate(301.80,300.04) scale(0.8,1)" font-size="10.5" text-anchor="end" fill="#1a1a1a" stroke="#1a1a1a" stroke-width="0.05">8.2</text>
<line x1="302.60" y1="315.40" x2="304.60" y2="315.40" stroke="#808080" stroke-width="1" />
<text transform="translate(301.80,319.20) scale(0.8,1)" font-size="10.5" text-anchor="end" fill="#1a1a1a" stroke="#1a1a1a" stroke-width="0.05">5.8</text>
<line x1="302.60" y1="334.55" x2="304.60" y2="334.55" stroke="#808080" stroke-width="1" />
<text transform="translate(301.80,338.35) scale(0.8,1)" font-size="10.5" text-anchor="end" fill="#1a1a1a" stroke="#1a1a1a" stroke-width="0.05">3.4</text>
<line x1="302.60" y1="353.70" x2="304.60" y2="353.70" stroke="#808080" stroke-width="1" />
<text transform="translate(301.80,357.50) scale(0.8,1)" font-size="10.5" text-anchor="end" fill="#1a1a1a" stroke="#1a1a1a" stroke-width="0.05">1.0</text>
<line x1="302.60" y1="361.80" x2="304.60" y2="361.80" stroke="#808080" stroke-width="1" />
<text x="302.00" y="364.30" font-size="9.5" text-anchor="end" fill="#1a1a1a" stroke="#1a1a1a" stroke-width="0.2" font-weight="normal" >*</text>
<line x1="304.60" y1="365.60" x2="442.50" y2="365.60" stroke="#a8a8a8" stroke-width="1.25" />
<line x1="310.30" y1="365.60" x2="310.30" y2="367.60" stroke="#a8a8a8" stroke-width="1" />
<text transform="translate(310.30,376.80) scale(0.8,1)" font-size="10.5" text-anchor="middle" fill="#1a1a1a" stroke="#1a1a1a" stroke-width="0.05">0</text>
<line x1="336.70" y1="365.60" x2="336.70" y2="367.60" stroke="#a8a8a8" stroke-width="1" />
<text transform="translate(336.70,376.80) scale(0.8,1)" font-size="10.5" text-anchor="middle" fill="#1a1a1a" stroke="#1a1a1a" stroke-width="0.05">3</text>
<line x1="363.10" y1="365.60" x2="363.10" y2="367.60" stroke="#a8a8a8" stroke-width="1" />
<text transform="translate(363.10,376.80) scale(0.8,1)" font-size="10.5" text-anchor="middle" fill="#1a1a1a" stroke="#1a1a1a" stroke-width="0.05">6</text>
<line x1="389.50" y1="365.60" x2="389.50" y2="367.60" stroke="#a8a8a8" stroke-width="1" />
<text transform="translate(389.50,376.80) scale(0.8,1)" font-size="10.5" text-anchor="middle" fill="#1a1a1a" stroke="#1a1a1a" stroke-width="0.05">9</text>
<line x1="415.90" y1="365.60" x2="415.90" y2="367.60" stroke="#a8a8a8" stroke-width="1" />
<text transform="translate(415.90,376.80) scale(0.8,1)" font-size="10.5" text-anchor="middle" fill="#1a1a1a" stroke="#1a1a1a" stroke-width="0.05">12</text>
<line x1="442.30" y1="365.60" x2="442.30" y2="367.60" stroke="#a8a8a8" stroke-width="1" />
<text transform="translate(442.30,376.80) scale(0.8,1)" font-size="10.5" text-anchor="middle" fill="#1a1a1a" stroke="#1a1a1a" stroke-width="0.05">15</text>
<text x="328.60" y="403.20" font-size="12" text-anchor="start" fill="#1a1a1a" stroke="#1a1a1a" stroke-width="0.25" font-weight="normal" >Efficiency [fs/call]</text>
<text x="473.80" y="237.00" font-size="12" text-anchor="middle" fill="#1a1a1a" stroke="#1a1a1a" stroke-width="0.25" font-weight="normal" >MSBD</text>
<text x="474.20" y="251.00" font-size="12" text-anchor="middle" fill="#1a1a1a" stroke="#1a1a1a" stroke-width="0.25" font-weight="normal" >recursion depth</text>
<circle cx="451.30" cy="267.80" r="1.1" fill="#2a2ab0" fill-opacity="1"/>
<text x="472.40" y="271.90" font-size="12.5" text-anchor="start" fill="#1a1a1a" stroke="#1a1a1a" stroke-width="0.25" font-weight="normal" letter-spacing="0.2">n=0</text>
<circle cx="451.30" cy="284.70" r="1.1" fill="#e0b040" fill-opacity="1"/>
<text x="472.40" y="288.80" font-size="12.5" text-anchor="start" fill="#1a1a1a" stroke="#1a1a1a" stroke-width="0.25" font-weight="normal" letter-spacing="0.2">n=1</text>
<circle cx="451.30" cy="301.60" r="1.1" fill="#2a8a3a" fill-opacity="1"/>
<text x="472.40" y="305.70" font-size="12.5" text-anchor="start" fill="#1a1a1a" stroke="#1a1a1a" stroke-width="0.25" font-weight="normal" letter-spacing="0.2">n=2</text>
<circle cx="451.30" cy="318.50" r="1.1" fill="#d82040" fill-opacity="1"/>
<text x="472.40" y="322.60" font-size="12.5" text-anchor="start" fill="#1a1a1a" stroke="#1a1a1a" stroke-width="0.25" font-weight="normal" letter-spacing="0.2">n=3</text>
<circle cx="451.30" cy="335.40" r="1.1" fill="#7a3a9a" fill-opacity="1"/>
<text x="472.40" y="339.50" font-size="12.5" text-anchor="start" fill="#1a1a1a" stroke="#1a1a1a" stroke-width="0.25" font-weight="normal" letter-spacing="0.2">n=4</text>
<circle cx="451.30" cy="352.30" r="1.1" fill="#8a4a4a" fill-opacity="1"/>
<text x="472.40" y="356.40" font-size="12.5" text-anchor="start" fill="#1a1a1a" stroke="#1a1a1a" stroke-width="0.25" font-weight="normal" letter-spacing="0.2">n=5</text>
<polyline points="319.00,262.00 324.00,261.80 329.40,261.00 333.80,263.50 339.00,265.70 344.00,268.00 349.60,267.20 355.40,262.00 360.60,263.50 366.50,268.00 372.40,275.30 388.50,268.00 389.60,280.00 391.60,299.10 392.10,314.30 393.30,320.40 394.50,327.80 397.00,331.50 398.20,336.40 408.50,358.40 422.70,357.70 428.30,360.90" fill="none" stroke="#a0485a" stroke-width="0.95" stroke-linejoin="round" />
<circle cx="319.00" cy="262.00" r="0.9" fill="#a04a4a" fill-opacity="1"/>
<circle cx="324.00" cy="261.80" r="0.9" fill="#a04a4a" fill-opacity="1"/>
<circle cx="329.40" cy="261.00" r="0.9" fill="#a04a4a" fill-opacity="1"/>
<circle cx="333.80" cy="263.50" r="0.9" fill="#a04a4a" fill-opacity="1"/>
<circle cx="339.00" cy="265.70" r="0.9" fill="#a04a4a" fill-opacity="1"/>
<circle cx="344.00" cy="268.00" r="0.9" fill="#a04a4a" fill-opacity="1"/>
<circle cx="349.60" cy="267.20" r="0.9" fill="#a04a4a" fill-opacity="1"/>
<circle cx="355.40" cy="262.00" r="0.9" fill="#a04a4a" fill-opacity="1"/>
<circle cx="360.60" cy="263.50" r="0.9" fill="#a04a4a" fill-opacity="1"/>
<circle cx="366.50" cy="268.00" r="0.9" fill="#a04a4a" fill-opacity="1"/>
<circle cx="372.40" cy="275.30" r="0.9" fill="#a04a4a" fill-opacity="1"/>
<circle cx="388.50" cy="268.00" r="0.9" fill="#a04a4a" fill-opacity="1"/>
<circle cx="389.60" cy="280.00" r="0.9" fill="#a04a4a" fill-opacity="1"/>
<circle cx="391.60" cy="299.10" r="0.9" fill="#a04a4a" fill-opacity="1"/>
<circle cx="392.10" cy="314.30" r="0.9" fill="#a04a4a" fill-opacity="1"/>
<circle cx="393.30" cy="320.40" r="0.9" fill="#a04a4a" fill-opacity="1"/>
<circle cx="394.50" cy="327.80" r="0.9" fill="#a04a4a" fill-opacity="1"/>
<circle cx="397.00" cy="331.50" r="0.9" fill="#a04a4a" fill-opacity="1"/>
<circle cx="398.20" cy="336.40" r="0.9" fill="#a04a4a" fill-opacity="1"/>
<circle cx="408.50" cy="358.40" r="0.9" fill="#a04a4a" fill-opacity="1"/>
<circle cx="422.70" cy="357.70" r="0.9" fill="#a04a4a" fill-opacity="1"/>
<circle cx="428.30" cy="360.90" r="0.9" fill="#a04a4a" fill-opacity="1"/>
<line x1="355.20" y1="257.00" x2="355.20" y2="261.00" stroke="#b06a78" stroke-width="1.0" />
<line x1="360.30" y1="258.00" x2="360.30" y2="265.00" stroke="#b06a78" stroke-width="1.0" />
<line x1="366.20" y1="257.00" x2="366.20" y2="262.00" stroke="#b06a78" stroke-width="1.0" />
<line x1="366.20" y1="270.00" x2="366.20" y2="276.00" stroke="#b06a78" stroke-width="1.0" />
<line x1="355.20" y1="265.00" x2="355.20" y2="268.00" stroke="#b06a78" stroke-width="1.0" />
<circle cx="355.00" cy="258.00" r="0.8" fill="#b87070" fill-opacity="1"/>
<circle cx="355.00" cy="273.00" r="0.8" fill="#b87070" fill-opacity="1"/>
<circle cx="361.00" cy="259.00" r="0.8" fill="#b87070" fill-opacity="1"/>
<circle cx="366.00" cy="258.00" r="0.8" fill="#b87070" fill-opacity="1"/>
<circle cx="366.00" cy="278.00" r="0.8" fill="#b87070" fill-opacity="1"/>
<circle cx="378.00" cy="267.00" r="0.8" fill="#b87070" fill-opacity="1"/>
<circle cx="378.00" cy="282.00" r="0.8" fill="#b87070" fill-opacity="1"/>
<circle cx="389.00" cy="263.00" r="0.8" fill="#b87070" fill-opacity="1"/>
<circle cx="331.00" cy="257.00" r="0.8" fill="#b87070" fill-opacity="1"/>
<circle cx="335.00" cy="256.00" r="0.8" fill="#b87070" fill-opacity="1"/>
<circle cx="338.00" cy="257.00" r="0.8" fill="#b87070" fill-opacity="1"/>
<circle cx="372.00" cy="271.00" r="0.8" fill="#b87070" fill-opacity="1"/>
<circle cx="392.00" cy="300.00" r="0.8" fill="#b87070" fill-opacity="1"/>
<circle cx="394.00" cy="318.00" r="0.8" fill="#b87070" fill-opacity="1"/>
<circle cx="396.00" cy="322.00" r="0.8" fill="#b87070" fill-opacity="1"/>
<circle cx="332.48" cy="265.02" r="0.75" fill="#8a40a8" fill-opacity="1"/>
<circle cx="339.02" cy="263.45" r="0.75" fill="#8a40a8" fill-opacity="1"/>
<circle cx="336.72" cy="269.31" r="0.75" fill="#8a40a8" fill-opacity="1"/>
<circle cx="327.16" cy="272.15" r="0.75" fill="#8a40a8" fill-opacity="1"/>
<circle cx="326.75" cy="270.67" r="0.75" fill="#8a40a8" fill-opacity="1"/>
<circle cx="327.40" cy="263.81" r="0.75" fill="#8a40a8" fill-opacity="1"/>
<circle cx="334.49" cy="278.54" r="0.75" fill="#8a40a8" fill-opacity="1"/>
<circle cx="328.48" cy="266.46" r="0.75" fill="#8a40a8" fill-opacity="1"/>
<circle cx="338.55" cy="280.95" r="0.75" fill="#8a40a8" fill-opacity="1"/>
<circle cx="337.54" cy="269.93" r="0.75" fill="#8a40a8" fill-opacity="1"/>
<circle cx="345.53" cy="262.93" r="0.75" fill="#8a40a8" fill-opacity="1"/>
<circle cx="343.17" cy="267.79" r="0.75" fill="#8a40a8" fill-opacity="1"/>
<circle cx="328.89" cy="264.36" r="0.75" fill="#8a40a8" fill-opacity="1"/>
<circle cx="332.17" cy="278.32" r="0.75" fill="#8a40a8" fill-opacity="1"/>
<circle cx="329.61" cy="273.63" r="0.75" fill="#8a40a8" fill-opacity="1"/>
<circle cx="338.78" cy="269.45" r="0.75" fill="#8a40a8" fill-opacity="1"/>
<circle cx="336.95" cy="263.26" r="0.75" fill="#8a40a8" fill-opacity="1"/>
<circle cx="327.19" cy="266.12" r="0.75" fill="#8a40a8" fill-opacity="1"/>
<circle cx="339.61" cy="270.55" r="0.75" fill="#8a40a8" fill-opacity="1"/>
<circle cx="332.28" cy="273.71" r="0.75" fill="#8a40a8" fill-opacity="1"/>
<circle cx="335.06" cy="268.00" r="0.75" fill="#8a40a8" fill-opacity="1"/>
<circle cx="341.89" cy="275.98" r="0.75" fill="#8a40a8" fill-opacity="1"/>
<circle cx="330.88" cy="273.49" r="0.75" fill="#8a40a8" fill-opacity="1"/>
<circle cx="336.50" cy="279.50" r="0.75" fill="#8a40a8" fill-opacity="1"/>
<circle cx="340.59" cy="267.76" r="0.75" fill="#8a40a8" fill-opacity="1"/>
<circle cx="345.60" cy="264.36" r="0.75" fill="#8a40a8" fill-opacity="1"/>
<polyline points="320.60,270.50 326.00,270.00 331.00,269.50 336.00,269.00 340.00,269.50 344.00,269.50 349.00,268.00 350.50,290.00 351.00,308.00 351.40,327.00 353.00,343.00 359.40,359.20 366.00,359.20 369.60,361.00" fill="none" stroke="#8a3aa0" stroke-width="0.95" stroke-linejoin="round" />
<circle cx="320.60" cy="270.50" r="0.9" fill="#8a3aa0" fill-opacity="1"/>
<circle cx="326.00" cy="270.00" r="0.9" fill="#8a3aa0" fill-opacity="1"/>
<circle cx="331.00" cy="269.50" r="0.9" fill="#8a3aa0" fill-opacity="1"/>
<circle cx="336.00" cy="269.00" r="0.9" fill="#8a3aa0" fill-opacity="1"/>
<circle cx="340.00" cy="269.50" r="0.9" fill="#8a3aa0" fill-opacity="1"/>
<circle cx="344.00" cy="269.50" r="0.9" fill="#8a3aa0" fill-opacity="1"/>
<circle cx="349.00" cy="268.00" r="0.9" fill="#8a3aa0" fill-opacity="1"/>
<circle cx="350.50" cy="290.00" r="0.9" fill="#8a3aa0" fill-opacity="1"/>
<circle cx="351.00" cy="308.00" r="0.9" fill="#8a3aa0" fill-opacity="1"/>
<circle cx="351.40" cy="327.00" r="0.9" fill="#8a3aa0" fill-opacity="1"/>
<circle cx="353.00" cy="343.00" r="0.9" fill="#8a3aa0" fill-opacity="1"/>
<circle cx="359.40" cy="359.20" r="0.9" fill="#8a3aa0" fill-opacity="1"/>
<circle cx="366.00" cy="359.20" r="0.9" fill="#8a3aa0" fill-opacity="1"/>
<circle cx="369.60" cy="361.00" r="0.9" fill="#8a3aa0" fill-opacity="1"/>
<circle cx="322.60" cy="277.87" r="0.8" fill="#e02838" fill-opacity="1"/>
<circle cx="319.67" cy="273.31" r="0.8" fill="#e02838" fill-opacity="1"/>
<circle cx="318.43" cy="276.36" r="0.8" fill="#e02838" fill-opacity="1"/>
<circle cx="326.41" cy="274.74" r="0.8" fill="#e02838" fill-opacity="1"/>
<circle cx="327.63" cy="270.33" r="0.8" fill="#e02838" fill-opacity="1"/>
<circle cx="325.65" cy="275.10" r="0.8" fill="#e02838" fill-opacity="1"/>
<circle cx="324.38" cy="272.76" r="0.8" fill="#e02838" fill-opacity="1"/>
<circle cx="327.24" cy="281.06" r="0.8" fill="#e02838" fill-opacity="1"/>
<circle cx="323.22" cy="276.29" r="0.8" fill="#e02838" fill-opacity="1"/>
<circle cx="318.67" cy="276.93" r="0.8" fill="#e02838" fill-opacity="1"/>
<circle cx="325.12" cy="281.88" r="0.8" fill="#e02838" fill-opacity="1"/>
<circle cx="327.04" cy="269.84" r="0.8" fill="#e02838" fill-opacity="1"/>
<circle cx="322.24" cy="276.37" r="0.8" fill="#e02838" fill-opacity="1"/>
<circle cx="318.25" cy="272.85" r="0.8" fill="#e02838" fill-opacity="1"/>
<circle cx="319.85" cy="266.99" r="0.8" fill="#e02838" fill-opacity="1"/>
<circle cx="318.65" cy="278.06" r="0.8" fill="#e02838" fill-opacity="1"/>
<circle cx="319.42" cy="269.21" r="0.8" fill="#e02838" fill-opacity="1"/>
<circle cx="322.30" cy="279.81" r="0.8" fill="#e02838" fill-opacity="1"/>
<circle cx="318.89" cy="272.64" r="0.8" fill="#e02838" fill-opacity="1"/>
<circle cx="324.04" cy="280.02" r="0.8" fill="#e02838" fill-opacity="1"/>
<circle cx="327.01" cy="279.69" r="0.8" fill="#e02838" fill-opacity="1"/>
<circle cx="321.06" cy="272.06" r="0.8" fill="#e02838" fill-opacity="1"/>
<circle cx="321.95" cy="280.03" r="0.8" fill="#e02838" fill-opacity="1"/>
<circle cx="328.54" cy="267.57" r="0.8" fill="#e02838" fill-opacity="1"/>
<circle cx="319.94" cy="268.94" r="0.8" fill="#e02838" fill-opacity="1"/>
<circle cx="320.57" cy="273.24" r="0.8" fill="#e02838" fill-opacity="1"/>
<circle cx="324.48" cy="269.47" r="0.8" fill="#e02838" fill-opacity="1"/>
<circle cx="318.05" cy="272.12" r="0.8" fill="#e02838" fill-opacity="1"/>
<circle cx="322.06" cy="274.63" r="0.8" fill="#e02838" fill-opacity="1"/>
<circle cx="328.48" cy="276.74" r="0.8" fill="#e02838" fill-opacity="1"/>
<circle cx="323.67" cy="275.50" r="0.8" fill="#e02838" fill-opacity="1"/>
<circle cx="325.44" cy="265.92" r="0.8" fill="#e02838" fill-opacity="1"/>
<circle cx="327.89" cy="278.26" r="0.8" fill="#e02838" fill-opacity="1"/>
<circle cx="327.62" cy="278.56" r="0.8" fill="#e02838" fill-opacity="1"/>
<circle cx="322.75" cy="271.19" r="0.9" fill="#e02838" fill-opacity="1"/>
<circle cx="320.72" cy="273.07" r="0.9" fill="#e02838" fill-opacity="1"/>
<circle cx="320.44" cy="268.54" r="0.9" fill="#e02838" fill-opacity="1"/>
<circle cx="321.46" cy="269.30" r="0.9" fill="#e02838" fill-opacity="1"/>
<circle cx="322.38" cy="268.42" r="0.9" fill="#e02838" fill-opacity="1"/>
<circle cx="320.00" cy="269.21" r="0.9" fill="#e02838" fill-opacity="1"/>
<circle cx="320.71" cy="270.91" r="0.9" fill="#e02838" fill-opacity="1"/>
<circle cx="320.18" cy="274.99" r="0.9" fill="#e02838" fill-opacity="1"/>
<circle cx="324.30" cy="269.19" r="0.9" fill="#e02838" fill-opacity="1"/>
<circle cx="321.77" cy="270.78" r="0.9" fill="#e02838" fill-opacity="1"/>
<circle cx="322.55" cy="268.98" r="0.9" fill="#e02838" fill-opacity="1"/>
<circle cx="325.94" cy="275.94" r="0.9" fill="#e02838" fill-opacity="1"/>
<circle cx="323.26" cy="271.87" r="0.9" fill="#e02838" fill-opacity="1"/>
<circle cx="320.60" cy="268.82" r="0.9" fill="#e02838" fill-opacity="1"/>
<polyline points="320.60,273.80 323.50,270.00 326.00,269.50 329.40,267.20 329.90,268.00 329.90,290.00" fill="none" stroke="#e0a0a8" stroke-width="1.0" stroke-linejoin="round" />
<polyline points="329.90,290.00 330.40,325.00 330.60,333.00 331.60,343.00 334.50,359.00 339.00,359.00 340.00,361.00" fill="none" stroke="#c82838" stroke-width="0.95" stroke-linejoin="round" />
<circle cx="320.60" cy="273.80" r="0.9" fill="#c82838" fill-opacity="1"/>
<circle cx="323.50" cy="270.00" r="0.9" fill="#c82838" fill-opacity="1"/>
<circle cx="326.00" cy="269.50" r="0.9" fill="#c82838" fill-opacity="1"/>
<circle cx="329.40" cy="267.20" r="0.9" fill="#c82838" fill-opacity="1"/>
<circle cx="329.90" cy="268.00" r="0.9" fill="#c82838" fill-opacity="1"/>
<circle cx="329.90" cy="290.00" r="0.9" fill="#c82838" fill-opacity="1"/>
<circle cx="330.40" cy="325.00" r="0.9" fill="#c82838" fill-opacity="1"/>
<circle cx="330.60" cy="333.00" r="0.9" fill="#c82838" fill-opacity="1"/>
<circle cx="331.60" cy="343.00" r="0.9" fill="#c82838" fill-opacity="1"/>
<circle cx="334.50" cy="359.00" r="0.9" fill="#c82838" fill-opacity="1"/>
<circle cx="339.00" cy="359.00" r="0.9" fill="#c82838" fill-opacity="1"/>
<circle cx="340.00" cy="361.00" r="0.9" fill="#c82838" fill-opacity="1"/>
<circle cx="316.06" cy="265.66" r="0.8" fill="#3a9a3a" fill-opacity="1"/>
<circle cx="318.97" cy="263.65" r="0.8" fill="#3a9a3a" fill-opacity="1"/>
<circle cx="314.14" cy="279.04" r="0.8" fill="#3a9a3a" fill-opacity="1"/>
<circle cx="317.17" cy="263.36" r="0.8" fill="#3a9a3a" fill-opacity="1"/>
<circle cx="317.26" cy="261.03" r="0.8" fill="#3a9a3a" fill-opacity="1"/>
<circle cx="317.17" cy="279.58" r="0.8" fill="#3a9a3a" fill-opacity="1"/>
<circle cx="319.18" cy="274.08" r="0.8" fill="#3a9a3a" fill-opacity="1"/>
<circle cx="315.57" cy="267.65" r="0.8" fill="#3a9a3a" fill-opacity="1"/>
<circle cx="315.00" cy="275.55" r="0.8" fill="#3a9a3a" fill-opacity="1"/>
<circle cx="317.20" cy="275.69" r="0.8" fill="#3a9a3a" fill-opacity="1"/>
<circle cx="315.98" cy="264.85" r="0.8" fill="#3a9a3a" fill-opacity="1"/>
<circle cx="318.87" cy="279.71" r="0.8" fill="#3a9a3a" fill-opacity="1"/>
<circle cx="319.12" cy="276.22" r="0.8" fill="#3a9a3a" fill-opacity="1"/>
<circle cx="318.91" cy="274.93" r="0.8" fill="#3a9a3a" fill-opacity="1"/>
<circle cx="315.36" cy="270.59" r="0.8" fill="#3a9a3a" fill-opacity="1"/>
<circle cx="316.13" cy="261.07" r="0.8" fill="#3a9a3a" fill-opacity="1"/>
<circle cx="314.17" cy="265.95" r="0.8" fill="#3a9a3a" fill-opacity="1"/>
<circle cx="315.56" cy="274.00" r="0.8" fill="#3a9a3a" fill-opacity="1"/>
<circle cx="319.74" cy="269.22" r="0.8" fill="#3a9a3a" fill-opacity="1"/>
<circle cx="319.62" cy="279.77" r="0.8" fill="#3a9a3a" fill-opacity="1"/>
<circle cx="319.73" cy="267.61" r="0.8" fill="#3a9a3a" fill-opacity="1"/>
<circle cx="315.32" cy="264.92" r="0.8" fill="#3a9a3a" fill-opacity="1"/>
<circle cx="315.18" cy="264.49" r="0.8" fill="#3a9a3a" fill-opacity="1"/>
<circle cx="317.74" cy="278.06" r="0.8" fill="#3a9a3a" fill-opacity="1"/>
<circle cx="319.04" cy="269.85" r="0.8" fill="#3a9a3a" fill-opacity="1"/>
<circle cx="317.92" cy="276.09" r="0.8" fill="#3a9a3a" fill-opacity="1"/>
<circle cx="314.51" cy="273.38" r="0.8" fill="#3a9a3a" fill-opacity="1"/>
<circle cx="319.46" cy="275.75" r="0.8" fill="#3a9a3a" fill-opacity="1"/>
<circle cx="318.50" cy="269.82" r="0.8" fill="#3a9a3a" fill-opacity="1"/>
<circle cx="315.07" cy="275.89" r="0.8" fill="#3a9a3a" fill-opacity="1"/>
<line x1="319.80" y1="262.00" x2="319.80" y2="340.00" stroke="#98b898" stroke-width="1.0" />
<line x1="319.80" y1="340.00" x2="319.80" y2="352.70" stroke="#3a9a3a" stroke-width="1.0" />
<circle cx="320.00" cy="341.00" r="1.0" fill="#2a9a3a" fill-opacity="1"/>
<circle cx="320.00" cy="348.00" r="1.0" fill="#2a9a3a" fill-opacity="1"/>
<circle cx="320.00" cy="352.70" r="1.0" fill="#2a9a3a" fill-opacity="1"/>
<line x1="313.80" y1="266.00" x2="313.80" y2="286.00" stroke="#eeaa30" stroke-width="2.0" />
<circle cx="313.63" cy="282.42" r="0.75" fill="#eea020" fill-opacity="1"/>
<circle cx="316.19" cy="273.10" r="0.75" fill="#eea020" fill-opacity="1"/>
<circle cx="313.91" cy="285.78" r="0.75" fill="#eea020" fill-opacity="1"/>
<circle cx="315.20" cy="267.91" r="0.75" fill="#eea020" fill-opacity="1"/>
<circle cx="312.81" cy="267.48" r="0.75" fill="#eea020" fill-opacity="1"/>
<circle cx="315.92" cy="282.55" r="0.75" fill="#eea020" fill-opacity="1"/>
<circle cx="312.88" cy="283.01" r="0.75" fill="#eea020" fill-opacity="1"/>
<circle cx="316.22" cy="279.12" r="0.75" fill="#eea020" fill-opacity="1"/>
<circle cx="313.70" cy="276.62" r="0.75" fill="#eea020" fill-opacity="1"/>
<circle cx="312.82" cy="264.33" r="0.75" fill="#eea020" fill-opacity="1"/>
<circle cx="316.18" cy="278.94" r="0.75" fill="#eea020" fill-opacity="1"/>
<circle cx="314.41" cy="285.47" r="0.75" fill="#eea020" fill-opacity="1"/>
<circle cx="314.04" cy="284.05" r="0.75" fill="#eea020" fill-opacity="1"/>
<circle cx="315.60" cy="268.85" r="0.75" fill="#eea020" fill-opacity="1"/>
<circle cx="313.31" cy="270.74" r="0.75" fill="#eea020" fill-opacity="1"/>
<circle cx="313.26" cy="277.49" r="0.75" fill="#eea020" fill-opacity="1"/>
<circle cx="313.34" cy="273.64" r="0.75" fill="#eea020" fill-opacity="1"/>
<circle cx="312.82" cy="284.93" r="0.75" fill="#eea020" fill-opacity="1"/>
<circle cx="313.72" cy="274.54" r="0.75" fill="#eea020" fill-opacity="1"/>
<circle cx="314.63" cy="284.80" r="0.75" fill="#eea020" fill-opacity="1"/>
<circle cx="313.98" cy="285.11" r="0.75" fill="#eea020" fill-opacity="1"/>
<circle cx="314.31" cy="276.23" r="0.75" fill="#eea020" fill-opacity="1"/>
<polyline points="314.80,285.00 314.80,340.00 315.50,355.00 318.00,361.00" fill="none" stroke="#f0b440" stroke-width="1.0" stroke-linejoin="round" />
<circle cx="315.50" cy="355.00" r="1.0" fill="#f0b43c" fill-opacity="1"/>
<circle cx="318.00" cy="361.00" r="1.0" fill="#f0b43c" fill-opacity="1"/>
<line x1="311.70" y1="262.00" x2="311.70" y2="289.00" stroke="#4040cc" stroke-width="1.5" />
<circle cx="311.86" cy="262.51" r="0.75" fill="#2828b8" fill-opacity="1"/>
<circle cx="311.66" cy="266.94" r="0.75" fill="#2828b8" fill-opacity="1"/>
<circle cx="310.61" cy="283.58" r="0.75" fill="#2828b8" fill-opacity="1"/>
<circle cx="311.01" cy="274.78" r="0.75" fill="#2828b8" fill-opacity="1"/>
<circle cx="312.34" cy="277.02" r="0.75" fill="#2828b8" fill-opacity="1"/>
<circle cx="311.38" cy="276.00" r="0.75" fill="#2828b8" fill-opacity="1"/>
<circle cx="311.93" cy="283.18" r="0.75" fill="#2828b8" fill-opacity="1"/>
<circle cx="310.85" cy="277.13" r="0.75" fill="#2828b8" fill-opacity="1"/>
<circle cx="311.20" cy="269.48" r="0.75" fill="#2828b8" fill-opacity="1"/>
<circle cx="312.45" cy="275.71" r="0.75" fill="#2828b8" fill-opacity="1"/>
<circle cx="311.95" cy="282.52" r="0.75" fill="#2828b8" fill-opacity="1"/>
<circle cx="312.79" cy="273.97" r="0.75" fill="#2828b8" fill-opacity="1"/>
<circle cx="312.07" cy="275.65" r="0.75" fill="#2828b8" fill-opacity="1"/>
<circle cx="311.83" cy="280.70" r="0.75" fill="#2828b8" fill-opacity="1"/>
<circle cx="311.69" cy="276.40" r="0.75" fill="#2828b8" fill-opacity="1"/>
<circle cx="311.75" cy="287.42" r="0.75" fill="#2828b8" fill-opacity="1"/>
<circle cx="312.28" cy="285.67" r="0.75" fill="#2828b8" fill-opacity="1"/>
<circle cx="312.86" cy="269.01" r="0.75" fill="#2828b8" fill-opacity="1"/>
<polyline points="312.00,289.00 312.30,348.80 312.60,356.00 313.00,360.00" fill="none" stroke="#2424d0" stroke-width="1.1" stroke-linejoin="round" />
<circle cx="312.30" cy="348.80" r="1.1" fill="#2424d0" fill-opacity="1"/>
<circle cx="313.00" cy="352.00" r="1.1" fill="#2424d0" fill-opacity="1"/>
<circle cx="312.60" cy="356.00" r="1.1" fill="#2424d0" fill-opacity="1"/>
<circle cx="313.00" cy="360.00" r="1.1" fill="#2424d0" fill-opacity="1"/>
<circle cx="311.50" cy="260.50" r="1.4" fill="#202080" fill-opacity="1"/>
<circle cx="320.30" cy="251.00" r="0.9" fill="#8a3a8a" fill-opacity="1"/>
<circle cx="330.00" cy="255.00" r="0.9" fill="#8a3a8a" fill-opacity="1"/>
<circle cx="323.60" cy="256.00" r="0.9" fill="#8a3a8a" fill-opacity="1"/>
<line x1="603.70" y1="233.20" x2="603.70" y2="368.60" stroke="#a8a8a8" stroke-width="1.25" />
<line x1="601.70" y1="233.00" x2="603.70" y2="233.00" stroke="#808080" stroke-width="1" />
<text transform="translate(600.60,236.00) scale(0.9,1)" font-size="8.6" text-anchor="end" fill="#1a1a1a" stroke="#1a1a1a" stroke-width="0.05">13.0</text>
<line x1="601.70" y1="260.04" x2="603.70" y2="260.04" stroke="#808080" stroke-width="1" />
<text transform="translate(600.60,263.04) scale(0.9,1)" font-size="8.6" text-anchor="end" fill="#1a1a1a" stroke="#1a1a1a" stroke-width="0.05">10.4</text>
<line x1="601.70" y1="287.08" x2="603.70" y2="287.08" stroke="#808080" stroke-width="1" />
<text transform="translate(600.60,290.08) scale(0.9,1)" font-size="8.6" text-anchor="end" fill="#1a1a1a" stroke="#1a1a1a" stroke-width="0.05">7.8</text>
<line x1="601.70" y1="314.12" x2="603.70" y2="314.12" stroke="#808080" stroke-width="1" />
<text transform="translate(600.60,317.12) scale(0.9,1)" font-size="8.6" text-anchor="end" fill="#1a1a1a" stroke="#1a1a1a" stroke-width="0.05">5.2</text>
<line x1="601.70" y1="341.16" x2="603.70" y2="341.16" stroke="#808080" stroke-width="1" />
<text transform="translate(600.60,344.16) scale(0.9,1)" font-size="8.6" text-anchor="end" fill="#1a1a1a" stroke="#1a1a1a" stroke-width="0.05">2.6</text>
<line x1="601.70" y1="368.20" x2="603.70" y2="368.20" stroke="#808080" stroke-width="1" />
<text transform="translate(600.60,371.20) scale(0.9,1)" font-size="8.6" text-anchor="end" fill="#1a1a1a" stroke="#1a1a1a" stroke-width="0.05">0.0</text>
<text transform="translate(571.30,391.20) rotate(-90)" font-size="12" text-anchor="start" fill="#1a1a1a" stroke="#1a1a1a" stroke-width="0.25" font-weight="normal" >Rg  relaxation time half life [ps]</text>
<rect x="611.10" y="252.00" width="12.80" height="116.60" fill="#c3d9ee" />
<rect x="627.45" y="260.00" width="12.80" height="108.60" fill="#95c2e2" />
<rect x="643.80" y="245.60" width="12.80" height="123.00" fill="#4592c8" />
<rect x="660.15" y="355.80" width="12.80" height="12.80" fill="#1d5fa8" />
<rect x="676.50" y="263.30" width="12.80" height="105.30" fill="#fea708" />
<rect x="692.85" y="253.80" width="12.80" height="114.80" fill="#058005" />
<rect x="709.20" y="253.10" width="12.80" height="115.50" fill="#fd0404" />
<rect x="725.55" y="247.10" width="12.80" height="121.50" fill="#800482" />
<rect x="741.90" y="253.40" width="12.80" height="115.20" fill="#a52a2a" />
<line x1="617.50" y1="247.30" x2="617.50" y2="255.50" stroke="#4a7fc0" stroke-width="0.9" />
<line x1="616.00" y1="247.30" x2="619.00" y2="247.30" stroke="#4a7fc0" stroke-width="0.9" />
<line x1="616.00" y1="255.50" x2="619.00" y2="255.50" stroke="#4a7fc0" stroke-width="0.9" />
<line x1="633.85" y1="250.10" x2="633.85" y2="270.70" stroke="#4a7fc0" stroke-width="0.9" />
<line x1="632.35" y1="250.10" x2="635.35" y2="250.10" stroke="#4a7fc0" stroke-width="0.9" />
<line x1="632.35" y1="270.70" x2="635.35" y2="270.70" stroke="#4a7fc0" stroke-width="0.9" />
<line x1="650.20" y1="241.80" x2="650.20" y2="250.90" stroke="#4a7fc0" stroke-width="0.9" />
<line x1="648.70" y1="241.80" x2="651.70" y2="241.80" stroke="#4a7fc0" stroke-width="0.9" />
<line x1="648.70" y1="250.90" x2="651.70" y2="250.90" stroke="#4a7fc0" stroke-width="0.9" />
<line x1="666.55" y1="354.60" x2="666.55" y2="357.00" stroke="#4a7fc0" stroke-width="0.9" />
<line x1="665.05" y1="354.60" x2="668.05" y2="354.60" stroke="#4a7fc0" stroke-width="0.9" />
<line x1="665.05" y1="357.00" x2="668.05" y2="357.00" stroke="#4a7fc0" stroke-width="0.9" />
<line x1="682.90" y1="256.30" x2="682.90" y2="270.00" stroke="#4a7fc0" stroke-width="0.9" />
<line x1="681.40" y1="256.30" x2="684.40" y2="256.30" stroke="#4a7fc0" stroke-width="0.9" />
<line x1="681.40" y1="270.00" x2="684.40" y2="270.00" stroke="#4a7fc0" stroke-width="0.9" />
<line x1="699.25" y1="251.20" x2="699.25" y2="256.00" stroke="#4a7fc0" stroke-width="0.9" />
<line x1="697.75" y1="251.20" x2="700.75" y2="251.20" stroke="#4a7fc0" stroke-width="0.9" />
<line x1="697.75" y1="256.00" x2="700.75" y2="256.00" stroke="#4a7fc0" stroke-width="0.9" />
<line x1="715.60" y1="250.60" x2="715.60" y2="256.00" stroke="#4a7fc0" stroke-width="0.9" />
<line x1="714.10" y1="250.60" x2="717.10" y2="250.60" stroke="#4a7fc0" stroke-width="0.9" />
<line x1="714.10" y1="256.00" x2="717.10" y2="256.00" stroke="#4a7fc0" stroke-width="0.9" />
<line x1="731.95" y1="245.00" x2="731.95" y2="250.00" stroke="#4a7fc0" stroke-width="0.9" />
<line x1="730.45" y1="245.00" x2="733.45" y2="245.00" stroke="#4a7fc0" stroke-width="0.9" />
<line x1="730.45" y1="250.00" x2="733.45" y2="250.00" stroke="#4a7fc0" stroke-width="0.9" />
<line x1="748.30" y1="244.10" x2="748.30" y2="263.00" stroke="#4a7fc0" stroke-width="0.9" />
<line x1="746.80" y1="244.10" x2="749.80" y2="244.10" stroke="#4a7fc0" stroke-width="0.9" />
<line x1="746.80" y1="263.00" x2="749.80" y2="263.00" stroke="#4a7fc0" stroke-width="0.9" />
<line x1="603.70" y1="368.60" x2="761.00" y2="368.60" stroke="#a8a8a8" stroke-width="1.25" />
<line x1="617.50" y1="368.60" x2="617.50" y2="370.60" stroke="#a8a8a8" stroke-width="1" />
<text transform="translate(617.70,378.70) scale(0.8,1)" font-size="9.3" text-anchor="middle" fill="#1a1a1a" stroke="#1a1a1a" stroke-width="0.12">0.02</text>
<line x1="633.85" y1="368.60" x2="633.85" y2="370.60" stroke="#a8a8a8" stroke-width="1" />
<text transform="translate(634.05,378.70) scale(0.8,1)" font-size="9.3" text-anchor="middle" fill="#1a1a1a" stroke="#1a1a1a" stroke-width="0.12">0.24</text>
<line x1="650.20" y1="368.60" x2="650.20" y2="370.60" stroke="#a8a8a8" stroke-width="1" />
<text transform="translate(650.40,378.70) scale(0.8,1)" font-size="9.3" text-anchor="middle" fill="#1a1a1a" stroke="#1a1a1a" stroke-width="0.12">0.28</text>
<line x1="666.55" y1="368.60" x2="666.55" y2="370.60" stroke="#a8a8a8" stroke-width="1" />
<text transform="translate(666.75,378.70) scale(0.8,1)" font-size="9.3" text-anchor="middle" fill="#1a1a1a" stroke="#1a1a1a" stroke-width="0.12">0.29</text>
<line x1="682.90" y1="368.60" x2="682.90" y2="370.60" stroke="#a8a8a8" stroke-width="1" />
<text transform="translate(683.10,378.70) scale(0.8,1)" font-size="9.3" text-anchor="middle" fill="#1a1a1a" stroke="#1a1a1a" stroke-width="0.12">0.48</text>
<line x1="699.25" y1="368.60" x2="699.25" y2="370.60" stroke="#a8a8a8" stroke-width="1" />
<text transform="translate(699.45,378.70) scale(0.8,1)" font-size="9.3" text-anchor="middle" fill="#1a1a1a" stroke="#1a1a1a" stroke-width="0.12">0.96</text>
<line x1="715.60" y1="368.60" x2="715.60" y2="370.60" stroke="#a8a8a8" stroke-width="1" />
<text transform="translate(715.80,378.70) scale(0.8,1)" font-size="9.3" text-anchor="middle" fill="#1a1a1a" stroke="#1a1a1a" stroke-width="0.12">1.92</text>
<line x1="731.95" y1="368.60" x2="731.95" y2="370.60" stroke="#a8a8a8" stroke-width="1" />
<text transform="translate(732.15,378.70) scale(0.8,1)" font-size="9.3" text-anchor="middle" fill="#1a1a1a" stroke="#1a1a1a" stroke-width="0.12">3.84</text>
<line x1="748.30" y1="368.60" x2="748.30" y2="370.60" stroke="#a8a8a8" stroke-width="1" />
<text transform="translate(748.50,378.70) scale(0.8,1)" font-size="9.3" text-anchor="middle" fill="#1a1a1a" stroke="#1a1a1a" stroke-width="0.12">7.68</text>
<text x="636.00" y="402.20" font-size="12" text-anchor="start" fill="#1a1a1a" stroke="#1a1a1a" stroke-width="0.25" font-weight="normal" >Efficiency [fs/call]</text>
<rect x="605.90" y="215.50" width="70.80" height="9.90" fill="#ebebeb" stroke="#6a6a6a" stroke-width="0.9"/>
<text x="641.20" y="224.20" font-size="10" text-anchor="middle" fill="#111" stroke="#111" stroke-width="0.25" font-weight="normal" letter-spacing="0.25">Naive BD</text>
<text transform="translate(621.40,242.80) rotate(-90)" font-size="12" text-anchor="start" fill="#4a86d0" stroke="#4a86d0" stroke-width="0.25" font-weight="normal" >GS</text>
<text transform="translate(654.70,240.60) rotate(-90)" font-size="12" text-anchor="start" fill="#3a7ac8" stroke="#3a7ac8" stroke-width="0.25" font-weight="normal" >x1</text>
<text transform="translate(684.40,252.60) rotate(-90)" font-size="12" text-anchor="start" fill="#f0a830" stroke="#f0a830" stroke-width="0.25" font-weight="normal" >x2</text>
<text transform="translate(705.30,249.00) rotate(-90)" font-size="12" text-anchor="start" fill="#2a8a2a" stroke="#2a8a2a" stroke-width="0.25" font-weight="normal" >x3</text>
<text transform="translate(722.20,244.60) rotate(-90)" font-size="12" text-anchor="start" fill="#e82020" stroke="#e82020" stroke-width="0.25" font-weight="normal" >x7</text>
<text transform="translate(737.90,239.40) rotate(-90)" font-size="12" text-anchor="start" fill="#9a30e8" stroke="#9a30e8" stroke-width="0.25" font-weight="normal" >x13</text>
<text transform="translate(750.90,239.40) rotate(-90)" font-size="12" text-anchor="start" fill="#7a4a10" stroke="#7a4a10" stroke-width="0.25" font-weight="normal" >x27</text>
</svg>
</body></html>
